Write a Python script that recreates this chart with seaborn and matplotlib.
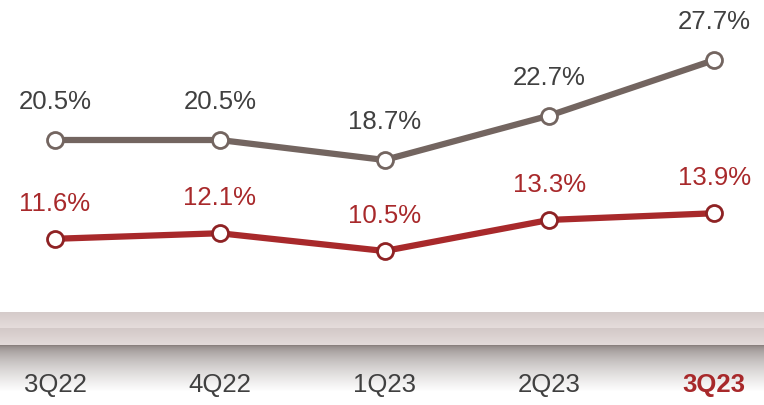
import numpy as np
import pandas as pd
import matplotlib
matplotlib.use("Agg")
import matplotlib.pyplot as plt
import seaborn as sns
from matplotlib.colors import to_rgb

sns.set_style("white")
plt.rcParams['font.family'] = ['Liberation Sans Narrow', 'Liberation Sans', 'DejaVu Sans']

# Data
quarters = ["3Q22", "4Q22", "1Q23", "2Q23", "3Q23"]
upper_vals = [20.5, 20.5, 18.7, 22.7, 27.7]
lower_vals = [11.6, 12.1, 10.5, 13.3, 13.9]

gray_line = "#736560"
gray_text = "#404040"
red_line = "#a8292b"
red_edge = "#8e2224"

df = pd.DataFrame({
    "x": list(range(len(quarters))) * 2,
    "value": upper_vals + lower_vals,
    "series": ["upper"] * len(quarters) + ["lower"] * len(quarters),
})

fig = plt.figure(figsize=(7.64, 4.06), dpi=100)
ax = fig.add_axes([0, 0, 1, 1])

px = 11.1  # pixels per percentage point
y_top = 20.5 + 141 / px
y_bot = 20.5 - (406 - 141) / px
x_lo, x_hi = -0.334, 4.303

def ypix(p):
    return 20.5 - (p - 141) / px

sns.lineplot(data=df[df.series == "upper"], x="x", y="value", ax=ax,
             color=gray_line, linewidth=4.5, marker="o", markersize=11.5,
             markerfacecolor="white", markeredgecolor=gray_line,
             markeredgewidth=2.0, zorder=3)
sns.lineplot(data=df[df.series == "lower"], x="x", y="value", ax=ax,
             color=red_line, linewidth=4.5, marker="o", markersize=11.5,
             markerfacecolor="white", markeredgecolor=red_edge,
             markeredgewidth=2.0, zorder=3)

for i, v in enumerate(upper_vals):
    ax.annotate(f"{v}%", (i, v), xytext=(0, 39), textcoords="offset pixels",
                ha="center", va="center", fontsize=18.5, color=gray_text)
for i, v in enumerate(lower_vals):
    ax.annotate(f"{v}%", (i, v), xytext=(0, 36), textcoords="offset pixels",
                ha="center", va="center", fontsize=18.5, color=red_line)

# decorative band near bottom (pixel rows 313..406)
def mix(c1, c2, t):
    a, b = np.array(to_rgb(c1)), np.array(to_rgb(c2))
    return a + (b - a) * t

rows = []
for r in range(313, 406):
    if r < 329:
        rows.append(mix("#d5cbca", "#e6dddc", (r - 313) / 16))
    elif r < 346:
        rows.append(mix("#d3c9c8", "#e5dcdb", (r - 329) / 17))
    else:
        t = min((r - 346) / 46, 1.0)
        rows.append(mix("#8a807e", "#ffffff", t ** 0.6))
img = np.array(rows)[:, None, :]
ax.imshow(img, aspect="auto", extent=(x_lo, x_hi, ypix(406), ypix(313)),
          zorder=0, interpolation="bilinear")
ax.set_xlim(x_lo, x_hi)
ax.set_ylim(y_bot, y_top)

for i, q in enumerate(quarters):
    last = i == len(quarters) - 1
    ax.text(i, ypix(385), q, ha="center", va="center",
            fontsize=18.5, color=red_line if last else gray_text,
            fontweight="bold" if last else "normal")

ax.axis("off")
fig.savefig("out.png", dpi=100)
